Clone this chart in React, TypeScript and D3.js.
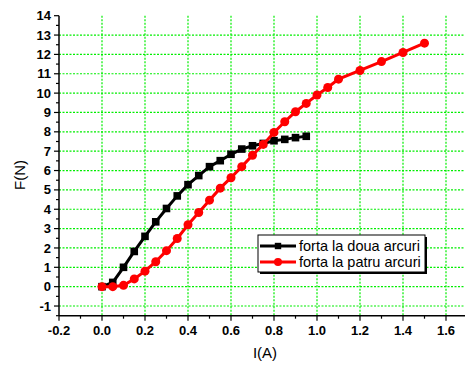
import React from "react";
import * as d3 from "d3";

const W = 465;
const H = 369;

const xDoua = [0, 0.05, 0.1, 0.15, 0.2, 0.25, 0.3, 0.35, 0.4, 0.45, 0.5, 0.55, 0.6, 0.65, 0.7, 0.75, 0.8, 0.85, 0.9, 0.95];
const yDoua = [0, 0.22, 1.0, 1.82, 2.6, 3.35, 4.04, 4.69, 5.27, 5.74, 6.2, 6.51, 6.84, 7.11, 7.28, 7.4, 7.54, 7.61, 7.7, 7.77];

const xPatru = [0, 0.05, 0.1, 0.15, 0.2, 0.25, 0.3, 0.35, 0.4, 0.45, 0.5, 0.55, 0.6, 0.65, 0.7, 0.75, 0.8, 0.85, 0.9, 0.95, 1.0, 1.05, 1.1, 1.2, 1.3, 1.4, 1.5];
const yPatru = [0, 0, 0.07, 0.4, 0.8, 1.29, 1.86, 2.49, 3.2, 3.83, 4.47, 5.09, 5.63, 6.2, 6.79, 7.35, 7.97, 8.52, 9.04, 9.47, 9.9, 10.29, 10.72, 11.17, 11.63, 12.1, 12.58];

const xTicks = [-0.2, 0.0, 0.2, 0.4, 0.6, 0.8, 1.0, 1.2, 1.4, 1.6];
const yTicks = [-1, 0, 1, 2, 3, 4, 5, 6, 7, 8, 9, 10, 11, 12, 13, 14];
const seriesNames = ["forta la doua arcuri", "forta la patru arcuri"];

const font = "'Liberation Sans', Arial, sans-serif";

export default function App() {
  const x = d3.scaleLinear().domain([-0.2, 1.7]).range([59, 467.5]);
  const y = d3.scaleLinear().domain([-1.5, 14]).range([315.7, 15.7]);

  const doua = xDoua.map((v, i) => [v, yDoua[i]] as [number, number]);
  const patru = xPatru.map((v, i) => [v, yPatru[i]] as [number, number]);
  const line = d3.line<[number, number]>().x((d) => x(d[0])).y((d) => y(d[1]));

  const xMinor = d3.range(-0.2, 1.71, 0.1);
  const yMinor = d3.range(-1.5, 14.01, 0.5);

  const x0 = x(-0.2);
  const y0 = y(-1.5);
  const gridColor = "#00ee00";

  return (
    <svg width={W} height={H} style={{ position: "absolute", left: 0, top: 0, background: "#fff" }}>
      {/* grid */}
      {xTicks.filter((t) => t > -0.2).map((t) => (
        <line key={"gx" + t} x1={x(t)} x2={x(t)} y1={y(14)} y2={y0} stroke={gridColor} strokeWidth={1.2} strokeDasharray="2,1.5" />
      ))}
      {yTicks.filter((t) => t < 14).map((t) => (
        <line key={"gy" + t} x1={x0} x2={W} y1={y(t)} y2={y(t)} stroke={gridColor} strokeWidth={1.2} strokeDasharray="2,1.5" />
      ))}

      {/* axes */}
      <line x1={x0} x2={x0} y1={y(14)} y2={y0} stroke="#000" strokeWidth={1.5} />
      <line x1={x0} x2={W} y1={y0} y2={y0} stroke="#000" strokeWidth={1.5} />
      {yMinor.map((t) => {
        const major = Math.abs(t - Math.round(t)) < 1e-6;
        return <line key={"yt" + t} x1={x0} x2={x0 - (major ? 5 : 3)} y1={y(t)} y2={y(t)} stroke="#000" strokeWidth={1.2} />;
      })}
      {xMinor.map((t, i) => {
        const major = i % 2 === 0;
        return <line key={"xt" + i} x1={x(t)} x2={x(t)} y1={y0} y2={y0 + (major ? 5 : 3)} stroke="#000" strokeWidth={1.2} />;
      })}
      {yTicks.map((t) => (
        <text key={"yl" + t} x={51} y={y(t)} dy="0.35em" textAnchor="end" fontFamily={font} fontWeight="bold" fontSize={13}>
          {t}
        </text>
      ))}
      {xTicks.map((t) => (
        <text key={"xl" + t} x={x(t)} y={335} textAnchor="middle" fontFamily={font} fontWeight="bold" fontSize={13}>
          {t.toFixed(1)}
        </text>
      ))}
      <text x={265} y={358} textAnchor="middle" fontFamily={font} fontSize={15}>I(A)</text>
      <text transform={`translate(25,175) rotate(-90)`} textAnchor="middle" fontFamily={font} fontSize={15}>F(N)</text>

      {/* series */}
      <path d={line(doua) || ""} fill="none" stroke="#000" strokeWidth={3} />
      {doua.map((d, i) => (
        <rect key={"sd" + i} x={x(d[0]) - 3.8} y={y(d[1]) - 3.8} width={7.6} height={7.6} fill="#000" />
      ))}
      <path d={line(patru) || ""} fill="none" stroke="#ff0000" strokeWidth={3} />
      {patru.map((d, i) => (
        <circle key={"sp" + i} cx={x(d[0])} cy={y(d[1])} r={4.5} fill="#ff0000" />
      ))}

      {/* legend */}
      <rect x={260} y={237} width={167} height={37} fill="#000" />
      <rect x={258} y={235} width={167} height={37} fill="#fff" stroke="#000" strokeWidth={1} />
      <line x1={260} x2={296} y1={246} y2={246} stroke="#000" strokeWidth={3} />
      <rect x={278 - 3.2} y={246 - 3.2} width={6.4} height={6.4} fill="#000" />
      <line x1={260} x2={296} y1={262} y2={262} stroke="#ff0000" strokeWidth={3} />
      <circle cx={278} cy={262} r={4} fill="#ff0000" />
      <text x={299} y={246} dy="0.35em" fontFamily={font} fontSize={14.5}>{seriesNames[0]}</text>
      <text x={299} y={262} dy="0.35em" fontFamily={font} fontSize={14.5}>{seriesNames[1]}</text>
    </svg>
  );
}
